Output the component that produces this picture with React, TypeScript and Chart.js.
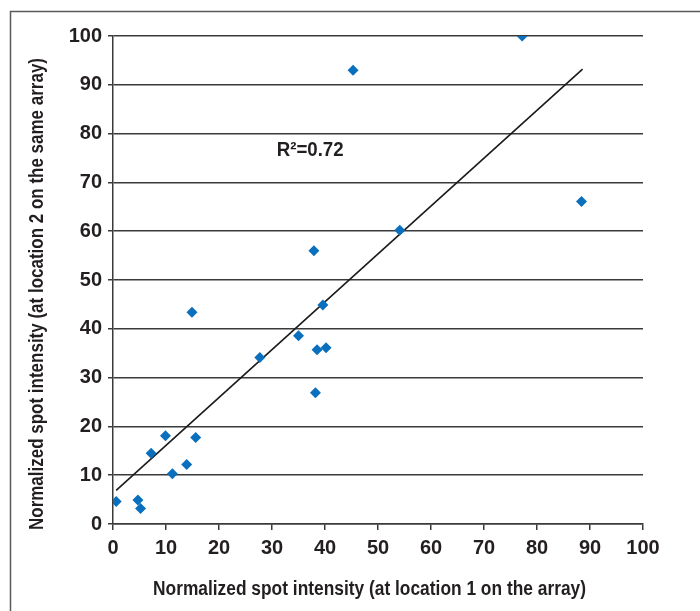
import React, { useEffect, useRef } from "react";
import { Chart, registerables } from "chart.js";

Chart.register(...registerables);

// Data
const xValues = [77.2, 45.3, 88.4, 54.1, 37.9, 14.9, 39.6, 35.0, 27.7, 38.5, 40.2, 38.2, 9.9, 7.2, 15.6, 13.9, 11.2, 0.6, 4.7, 5.2];
const yValues = [100, 93, 66.1, 60.2, 56, 43.4, 44.9, 38.6, 34.1, 35.7, 36.1, 26.9, 18.1, 14.5, 17.7, 12.2, 10.3, 4.6, 4.9, 3.2];
const trendX = [0.6, 88.6];
const trendY = [6.9, 93.2];
const r2Label = "R\u00B2=0.72";
const r2Pos = [37.2, 76.6];
const xTitle = "Normalized spot intensity (at location 1 on the array)";
const yTitle = "Normalized spot intensity (at location 2 on the same array)";
const axisMin = 0;
const axisMax = 100;
const axisStep = 10;

const FONT = "'Liberation Sans', Arial, sans-serif";
const TEXT = "#231f20";
const GRID = "#3a3a3a";

function condensedText(ctx: any, text: string, x: number, y: number, size: number, targetWidth: number, angle = 0) {
  ctx.save();
  ctx.font = `bold ${size}px ${FONT}`;
  const w = ctx.measureText(text).width;
  const k = Math.min(1, targetWidth / w);
  ctx.translate(x, y);
  ctx.rotate(angle);
  ctx.scale(k, 1);
  ctx.textAlign = "center";
  ctx.textBaseline = "middle";
  ctx.fillStyle = TEXT;
  ctx.fillText(text, 0, 0);
  ctx.restore();
}

const decorPlugin = {
  id: "decor",
  beforeDraw(chart: any) {
    const ctx = chart.ctx;
    ctx.save();
    ctx.strokeStyle = "#5a5a5a";
    ctx.lineWidth = 1.5;
    ctx.beginPath();
    ctx.moveTo(10.5, 700);
    ctx.lineTo(10.5, 11.5);
    ctx.lineTo(700, 11.5);
    ctx.stroke();
    ctx.restore();
  },
  afterDraw(chart: any) {
    const ctx = chart.ctx;
    const { x, y } = chart.scales;
    condensedText(ctx, r2Label, x.getPixelForValue(r2Pos[0]), y.getPixelForValue(r2Pos[1]), 21, 67);
    condensedText(ctx, xTitle, 369.5, 590, 19.5, 433);
    condensedText(ctx, yTitle, 38, 294, 19.5, 472, -Math.PI / 2);
  },
};

export default function App() {
  const ref = useRef<HTMLCanvasElement | null>(null);

  useEffect(() => {
    if (!ref.current) return;
    const points = xValues.map((v, i) => ({ x: v, y: yValues[i] }));
    const trend = trendX.map((v, i) => ({ x: v, y: trendY[i] }));
    const tickFont = { family: FONT, size: 20, weight: "bold" as const };

    const chart = new Chart(ref.current, {
      type: "scatter",
      data: {
        datasets: [
          {
            type: "line",
            data: trend,
            borderColor: "#1a1a1a",
            borderWidth: 1.6,
            pointRadius: 0,
            fill: false,
            order: 2,
          } as any,
          {
            data: points,
            pointStyle: "rectRot",
            pointRadius: 5.5,
            backgroundColor: "#0a6fbd",
            borderColor: "#0a6fbd",
            borderWidth: 0,
            order: 1,
          },
        ],
      },
      options: {
        responsive: false,
        animation: false,
        layout: { padding: { left: 0, top: 36, right: 57, bottom: 0 } },
        plugins: {
          legend: { display: false },
          tooltip: { enabled: false },
          title: { display: false },
        },
        scales: {
          x: {
            type: "linear",
            min: axisMin,
            max: axisMax,
            ticks: { stepSize: axisStep, color: TEXT, font: tickFont, padding: 6, maxRotation: 0 },
            grid: { drawOnChartArea: false, drawTicks: true, tickLength: 6, color: GRID, lineWidth: 1.5 },
            border: { display: true, color: GRID, width: 1.5 },
            afterFit(s: any) {
              s.height = 87;
              s.paddingLeft = 0;
              s.paddingRight = 0;
            },
          },
          y: {
            type: "linear",
            min: axisMin,
            max: axisMax,
            ticks: { stepSize: axisStep, color: TEXT, font: tickFont, padding: 6 },
            grid: { drawOnChartArea: true, drawTicks: true, tickLength: 5, color: GRID, lineWidth: 1.5 },
            border: { display: true, color: GRID, width: 1.5 },
            afterFit(s: any) {
              s.width = 113;
              s.paddingTop = 0;
              s.paddingBottom = 0;
            },
          },
        },
      },
      plugins: [decorPlugin],
    });
    return () => chart.destroy();
  }, []);

  return (
    <div style={{ position: "absolute", left: 0, top: 0, width: 700, height: 611, background: "#fff" }}>
      <canvas ref={ref} width={700} height={611} style={{ display: "block" }} />
    </div>
  );
}
